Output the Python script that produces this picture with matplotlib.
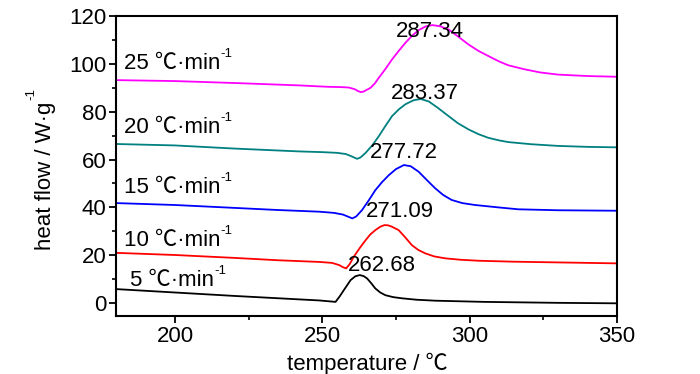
import matplotlib
matplotlib.use("Agg")
import matplotlib.pyplot as plt
from matplotlib import font_manager
from matplotlib.ticker import MultipleLocator

# ---------------- data ----------------
t25 = [180, 200, 220, 242, 252, 256, 259, 261, 262, 263, 264, 265.2, 266.4, 267.8, 269.2,
       271.5, 273.7, 276, 278.2, 280.5, 282.7, 285, 287.3, 290, 292.8, 296, 299.6, 303,
       306.3, 310, 313.1, 318.7, 324, 330, 340, 350]
h25 = [93.2, 92.8, 92.0, 91.0, 90.4, 90.3, 90.1, 89.4, 88.7, 88.2, 88.4, 89.2, 90.0, 91.8, 94.2,
       98.0, 101.9, 105.5, 108.8, 111.8, 114.1, 115.6, 116.2, 115.7, 114.4, 111.5, 108.1, 105.4,
       103.3, 101.0, 99.4, 97.7, 96.4, 95.5, 94.9, 94.6]

t20 = [180, 200, 220, 242, 250, 255, 258, 260, 261.8, 263, 264.7, 267, 269.2, 271.5, 273.7,
       276, 278.2, 281, 283.4, 286.1, 289, 292.8, 296, 299.6, 303, 306.3, 310, 313.1, 320.9,
       330, 340, 350]
h20 = [66.5, 65.9, 64.6, 63.4, 63.1, 62.8, 62.3, 61.3, 60.3, 60.9, 62.8, 66.0, 69.8, 74.2, 78.2,
       81.0, 83.1, 84.8, 85.3, 84.3, 81.8, 78.2, 75.2, 72.6, 70.6, 69.1, 68.0, 67.3, 66.4,
       65.7, 65.3, 65.1]

t15 = [180, 200, 220, 235, 249, 254, 257, 259, 260.2, 261.5, 263.5, 265.8, 268, 270.3, 272.6,
       275, 277.7, 280, 282.7, 285.5, 288.3, 291, 293.9, 297.5, 301.8, 309.7, 316.5, 330, 350]
h15 = [41.8, 41.0, 39.8, 38.9, 38.2, 37.7, 37.0, 36.0, 35.4, 36.2, 38.9, 43.0, 47.2, 50.6, 53.5,
       56.0, 57.7, 57.2, 54.9, 51.4, 48.0, 45.2, 43.1, 41.8, 41.0, 40.0, 39.2, 38.8, 38.6]

t10 = [180, 200, 220, 235, 249, 253.3, 255.7, 257, 258.1, 259.3, 260.7, 262.7, 264.7, 266.3,
       268, 269.8, 271.1, 272.3, 273.5, 275.9, 278.2, 280.4, 282.6, 284.9, 288, 291.7, 297,
       303, 315, 330, 350]
h10 = [21.0, 20.1, 18.9, 17.9, 17.2, 16.8, 15.9, 15.0, 14.5, 16.3, 19.4, 23.0, 26.3, 28.7,
       30.5, 32.0, 32.6, 32.5, 32.0, 30.5, 27.4, 24.2, 22.2, 20.8, 19.5, 18.7, 18.1,
       17.7, 17.3, 17.0, 16.6]

t5 = [180, 220, 249, 254.5, 255.9, 257.3, 259.6, 261.2, 262.7, 264, 265.2, 266.6, 268, 269.7,
      271.4, 274, 277, 282, 288.3, 305, 330, 350]
h5 = [5.85, 3.0, 1.1, 0.5, 2.8, 5.4, 9.6, 11.2, 11.7, 11.3, 10.3, 8.3, 6.1, 4.4,
      3.3, 2.5, 2.0, 1.4, 1.0, 0.5, 0.1, -0.1]

rates = ["25", "20", "15", "10", "5"]
colors = ["#FF00FF", "#008080", "#0000FF", "#FF0000", "#000000"]
peak_labels = ["287.34", "283.37", "277.72", "271.09", "262.68"]
peak_label_pos = [(286.6, 113.7), (284.7, 87.4), (277.6, 62.8), (276.3, 38.2), (270.3, 15.9)]
rate_label_pos = [(182.6, 100.3), (182.6, 73.2), (182.6, 48.2), (182.6, 26.3), (184.6, 9.6)]

xticks = [200, 250, 300, 350]
yticks = [0, 20, 40, 60, 80, 100, 120]

# ---------------- fonts ----------------
def pick(names, fallback):
    for name in names:
        try:
            font_manager.findfont(name, fallback_to_default=False)
            return name
        except Exception:
            pass
    return fallback

main_font = pick(["Liberation Sans Narrow", "Arial Narrow"], "Liberation Sans")
fam = [main_font, "Noto Sans CJK SC", "DejaVu Sans"]
plt.rcParams["font.family"] = fam
FS = 16
SUP = 9.5

fig = plt.figure(figsize=(7.0, 3.74), dpi=100)
ax = fig.add_axes([116 / 700, 1 - 316 / 374, (617 - 116) / 700, (316 - 16) / 374])

series = [(t25, h25), (t20, h20), (t15, h15), (t10, h10), (t5, h5)]
for (t, h), c in zip(series, colors):
    ax.plot(t, h, color=c, lw=1.3, solid_joinstyle="round", solid_capstyle="round")

ax.set_xlim(180, 350)
ax.set_ylim(-5.4, 120)
ax.set_xticks(xticks)
ax.set_yticks(yticks)
ax.xaxis.set_minor_locator(MultipleLocator(25))
ax.yaxis.set_minor_locator(MultipleLocator(10))
ax.tick_params(which="major", direction="out", length=5, width=1.3, labelsize=FS, pad=2)
ax.tick_params(which="minor", direction="out", length=3, width=1.2)
ax.tick_params(top=False, right=False, which="both")
for s in ax.spines.values():
    s.set_linewidth(1.5)

# peak labels
for lab, (x, y) in zip(peak_labels, peak_label_pos):
    ax.text(x, y, lab, fontsize=FS, ha="center", va="center")

# rate labels with superscript
for r, (x, y) in zip(rates, rate_label_pos):
    t = ax.text(x, y, r + " ℃·min", fontsize=FS, ha="left", va="center")
    ax.annotate("-1", xy=(1, 1), xycoords=t, xytext=(0.5, -5), textcoords="offset points",
                fontsize=SUP, ha="left", va="bottom")

# axis labels
xl = fig.text(367 / 700, 1 - 370 / 374, "temperature / ℃", fontsize=FS, ha="center", va="baseline")
yl = fig.text(46 / 700, 1 - 176 / 374, "heat flow / W·g", fontsize=FS, ha="center", va="center",
              rotation=90)
fig.canvas.draw()
ax.annotate("-1", xy=(0, 1), xycoords=yl, xytext=(1.5, 1), textcoords="offset points",
            fontsize=SUP, ha="right", va="bottom", rotation=90)

fig.savefig("out.png", dpi=100)
